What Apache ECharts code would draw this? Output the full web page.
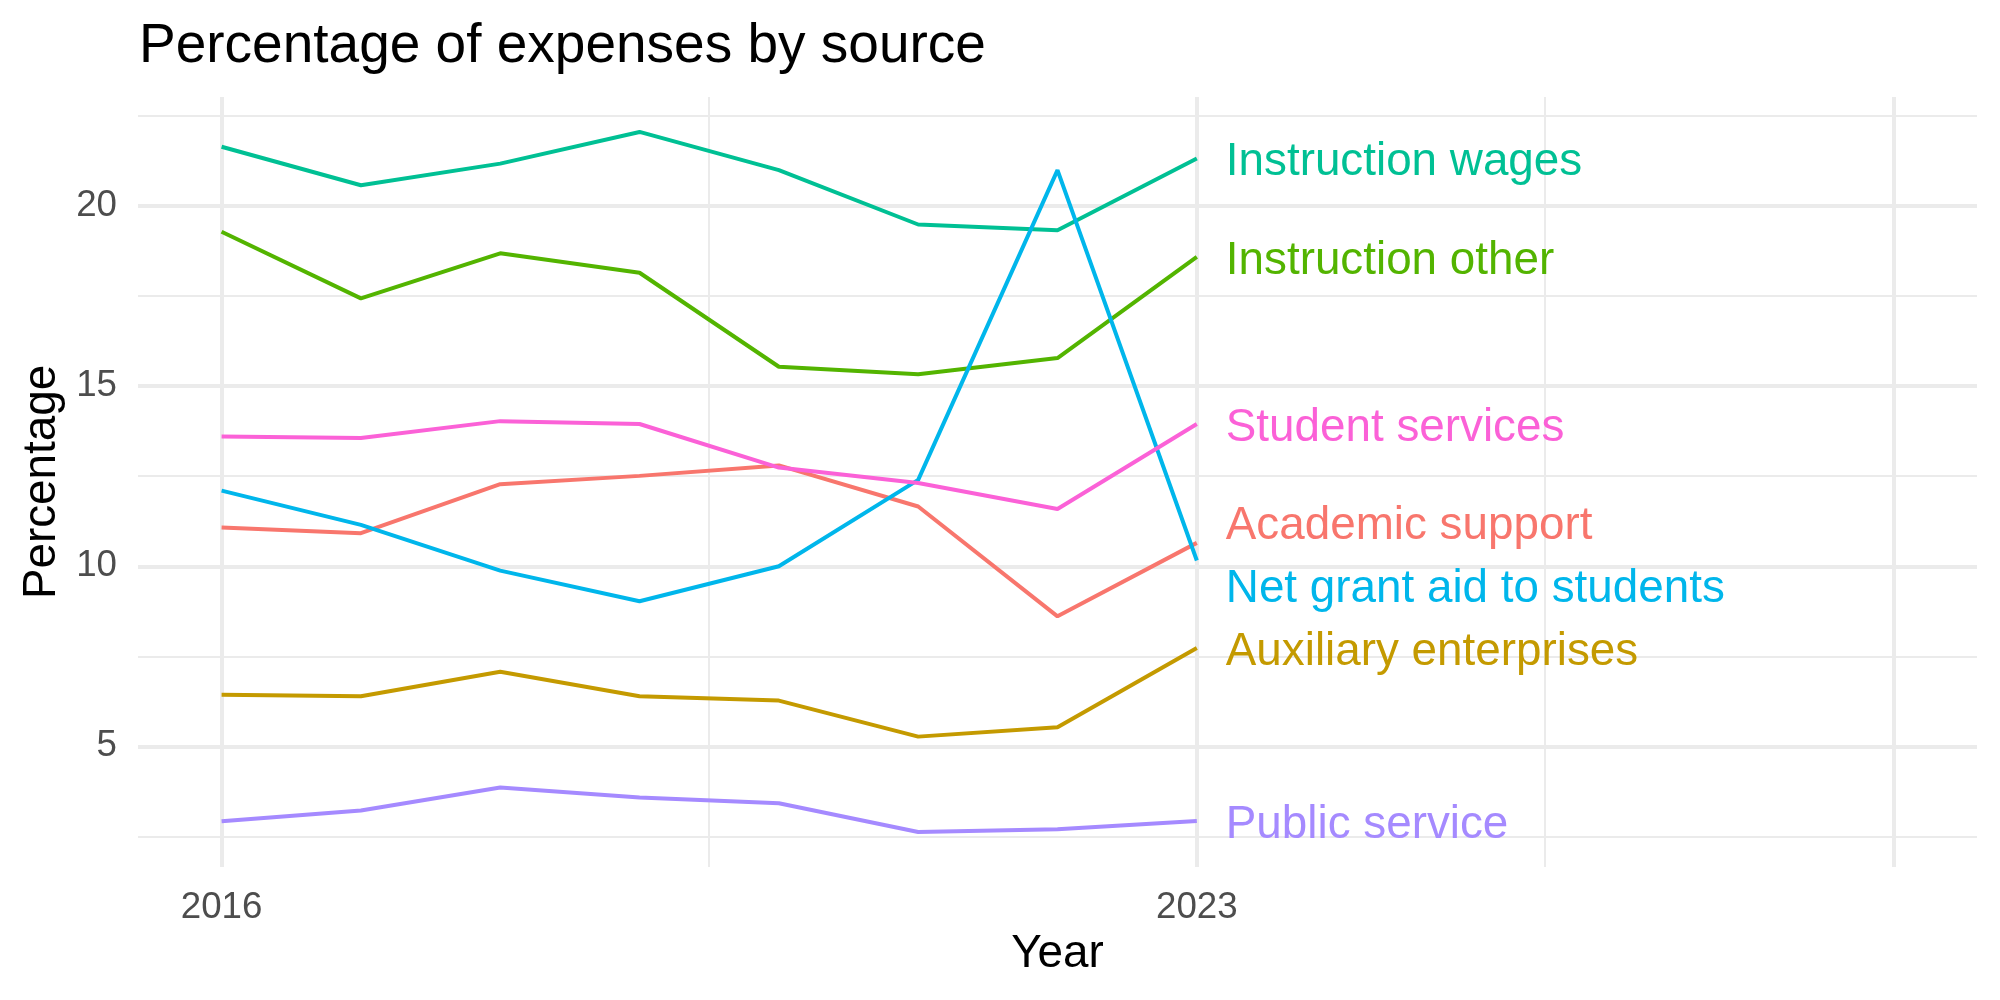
<!DOCTYPE html>
<html>
<head>
<meta charset="utf-8">
<script src="https://cdn.jsdelivr.net/npm/echarts@6/dist/echarts.min.js"></script>
<style>
html,body{margin:0;padding:0;background:#fff;}
#main{width:2000px;height:1000px;}
</style>
</head>
<body>
<div id="main"></div>
<script>
// ---- data ----
const years = [2016, 2017, 2018, 2019, 2020, 2021, 2022, 2023];
const academicSupport      = [11.08, 10.92, 12.28, 12.51, 12.80, 11.66, 8.61, 10.65];
const auxiliaryEnterprises = [6.43, 6.39, 7.07, 6.39, 6.27, 5.27, 5.53, 7.73];
const instructionOther     = [19.29, 17.44, 18.69, 18.15, 15.54, 15.33, 15.78, 18.59];
const instructionWages     = [21.65, 20.58, 21.18, 22.06, 21.00, 19.49, 19.33, 21.32];
const netGrantAid          = [12.10, 11.15, 9.88, 9.03, 10.00, 12.40, 21.00, 10.16];
const publicService        = [2.92, 3.22, 3.86, 3.58, 3.42, 2.62, 2.70, 2.93];
const studentServices      = [13.60, 13.56, 14.03, 13.95, 12.74, 12.31, 11.59, 13.95];

const seriesNames = ["Academic support", "Auxiliary enterprises", "Instruction other",
  "Instruction wages", "Net grant aid to students", "Public service", "Student services"];
const seriesValues = [academicSupport, auxiliaryEnterprises, instructionOther,
  instructionWages, netGrantAid, publicService, studentServices];
const seriesColors = ["#F8766D", "#C49A00", "#53B400", "#00C094", "#00B6EB", "#A58AFF", "#FB61D7"];
// label nudges (px) where labels were repelled apart
const labelOffsets = [[0, -16], [0, 4], [0, 4], [0, 4], [0, 29], [0, 4], [0, 4]];

const xTickLabels = [2016, 2023];
const yTickLabels = [5, 10, 15, 20];
const xMajorGrid = [2016, 2023, 2028];
const xMinorGrid = [2019.5, 2025.5];
const yMajorGrid = [5, 10, 15, 20];
const yMinorGrid = [2.5, 7.5, 12.5, 17.5, 22.5];

const FONT = "'Liberation Sans', Arial, Helvetica, sans-serif";

const gridLineData = [];
yMinorGrid.forEach(v => gridLineData.push({yAxis: v, lineStyle: {width: 2, color: '#EBEBEB', type: 'solid'}}));
xMinorGrid.forEach(v => gridLineData.push({xAxis: v, lineStyle: {width: 2, color: '#EBEBEB', type: 'solid'}}));
yMajorGrid.forEach(v => gridLineData.push({yAxis: v, lineStyle: {width: 4, color: '#EBEBEB', type: 'solid'}}));
xMajorGrid.forEach(v => gridLineData.push({xAxis: v, lineStyle: {width: 4, color: '#EBEBEB', type: 'solid'}}));

const series = [{
  type: 'line',
  data: [],
  z: 0,
  silent: true,
  markLine: {
    z: 0,
    silent: true,
    symbol: ['none', 'none'],
    label: {show: false},
    animation: false,
    emphasis: {disabled: true},
    data: gridLineData
  }
}];

seriesNames.forEach((name, i) => {
  series.push({
    name: name,
    type: 'line',
    z: 3,
    data: years.map((y, j) => [y, seriesValues[i][j]]),
    showSymbol: false,
    symbol: 'none',
    lineStyle: {color: seriesColors[i], width: 4},
    itemStyle: {color: seriesColors[i]},
    endLabel: {
      show: true,
      formatter: name,
      color: seriesColors[i],
      fontSize: 45.8,
      fontFamily: FONT,
      distance: 29,
      offset: labelOffsets[i],
      textBorderWidth: 0
    },
    animation: false
  });
});

const chart = echarts.init(document.getElementById('main'), null, {renderer: 'canvas'});
chart.setOption({
  backgroundColor: '#ffffff',
  animation: false,
  title: {
    text: 'Percentage of expenses by source',
    left: 139,
    top: 19,
    padding: 0,
    textStyle: {fontFamily: FONT, fontSize: 55, fontWeight: 'normal', color: '#000000'}
  },
  grid: {left: 138, right: 23, top: 97, bottom: 133, containLabel: false, outerBoundsMode: 'none'},
  xAxis: {
    type: 'value',
    min: 2015.4,
    max: 2028.6,
    name: 'Year',
    nameLocation: 'middle',
    nameGap: 62,
    nameTextStyle: {fontFamily: FONT, fontSize: 45.8, color: '#000000'},
    axisLine: {show: false},
    axisTick: {show: false},
    splitLine: {show: false},
    axisLabel: {
      customValues: xTickLabels,
      formatter: v => String(v),
      fontFamily: FONT, fontSize: 36.7, color: '#4D4D4D', margin: 22
    }
  },
  yAxis: {
    type: 'value',
    min: 1.65,
    max: 23.03,
    name: 'Percentage',
    nameLocation: 'middle',
    nameRotate: 90,
    nameGap: 67,
    nameTextStyle: {fontFamily: FONT, fontSize: 45.8, color: '#000000'},
    axisLine: {show: false},
    axisTick: {show: false},
    splitLine: {show: false},
    axisLabel: {
      customValues: yTickLabels,
      formatter: v => String(v),
      fontFamily: FONT, fontSize: 36.7, color: '#4D4D4D', margin: 21
    }
  },
  series: series
});
</script>
</body>
</html>
